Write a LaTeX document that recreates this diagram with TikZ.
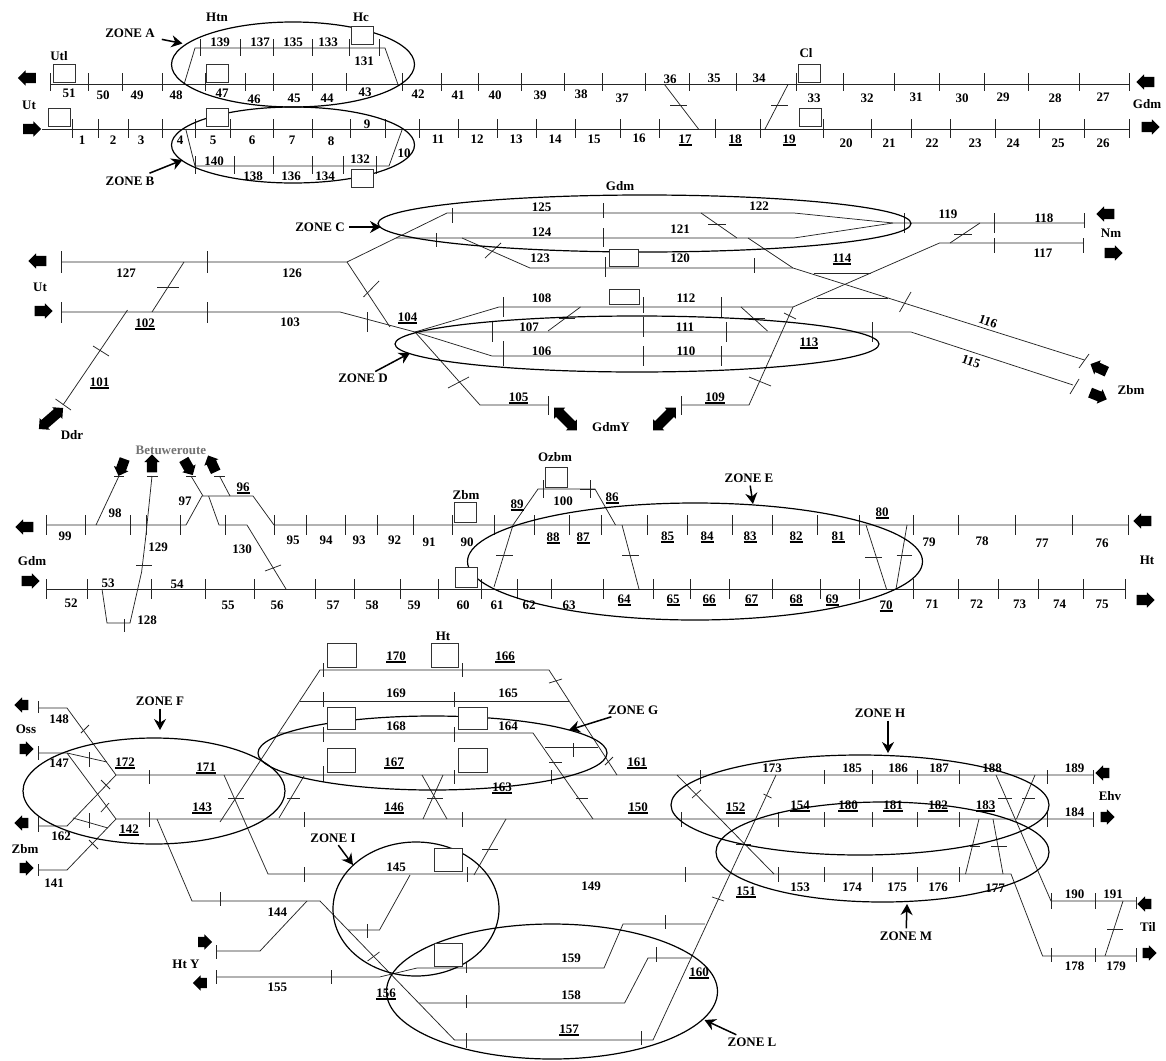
\documentclass[tikz,border=0pt]{standalone}
\usepackage{fontspec}
\setmainfont{Liberation Serif}
\usepackage{tikz}
\usetikzlibrary{arrows.meta,positioning,shapes.geometric,shapes.arrows}
\newcommand{\unl}[1]{\vtop{\hbox{#1}\kern.8pt\hrule height1.6pt}}
\newcommand{\tks}[3]{\foreach \tx in {#3} \draw[tck] (\tx,#1)--(\tx,#2);}
\begin{document}
\begin{tikzpicture}[x=1pt,y=-1pt,>=Stealth,font=\bfseries\fontsize{13}{15}\selectfont,
 trk/.style={draw=black!85,line width=.75pt},
 tck/.style={draw=black!85,line width=.75pt},
 zone/.style={ellipse,draw=black,line width=1.2pt,inner sep=0pt,outer sep=0pt},
 sbox/.style={draw=black!80,fill=white,line width=.7pt,inner sep=0pt,minimum width=22,minimum height=18},
 lab/.style={anchor=base,yshift=-4.5pt,inner sep=0pt},
 rlab/.style={inner sep=0pt,rotate=-19},
 zlab/.style={inner sep=1pt},
 zarr/.style={-{Stealth[length=11,width=12]},line width=1.5pt,shorten <=2pt},
 blk/.style={single arrow,fill=black,inner xsep=0pt,inner ysep=5pt,outer sep=0pt,minimum height=18,single arrow head extend=2.5pt},
 blk2/.style={double arrow,fill=black,inner xsep=0pt,inner ysep=5pt,outer sep=0pt,minimum height=32,double arrow head extend=2.5pt}]
\useasboundingbox (0,0) rectangle (1166,1060);

\draw[trk] (50,84.5)--(1129,84.5);
\draw[trk] (42,129)--(1129,129);
\tks{73}{91}{50,88,122,162,205,245,273,312,346,402,441,478,521,564,602,645,689,736,796,843,894,939,984,1028,1079,1129}
\tks{119}{138}{72,98,128,162,195,230,273,312,350,385,419,458,497,536,575,620,659,715,760,823,871,911,950,995,1039,1084,1129}
\draw[trk] (184,84.5)--(195,48)--(385,48)--(398,84.5);
\tks{39}{56}{200,240,273,312,349,379}
\draw[trk] (186,130)--(195,166)--(389,166)--(402,130);
\tks{156}{174}{195,234,273,312,343,376}
\draw[trk] (664.5,84.5)--(698.5,129);
\draw[tck] (670,105)--(687,105);
\draw[trk] (788,84.5)--(765,129);
\draw[tck] (771,105)--(788,105);

\draw[trk] (61,262)--(347,262)--(447,213)--(794,213)--(893,223)--(1084.5,223);
\draw[trk] (396,238)--(794,238)--(893,223);
\draw[trk] (462,238)--(530,268)--(793,268)--(1084.5,360);
\draw[trk] (701,213)--(737,238);
\draw[tck] (708,224)--(726,224);
\draw[trk] (748,238)--(793,268);
\draw[tck] (485,258)--(501,243);
\draw[trk] (1083,243)--(939.5,243)--(793,307)--(749,405)--(681,405);
\draw[trk] (950,243)--(980,223);
\draw[tck] (954,234)--(972,234);
\draw[tck] (749,377)--(771,386);
\draw[tck] (784,313)--(796,319);
\draw[trk] (813.5,273)--(871,273);
\draw[trk] (817,298)--(888,298);
\draw[trk] (61,312)--(340,312)--(415,332)--(492,356)--(772,356);
\draw[trk] (415,332)--(499,307)--(793,307);
\draw[trk] (415,332)--(911,332)--(1073,385);
\draw[trk] (347,262)--(390,327);
\draw[tck] (363.5,297)--(379,281);
\draw[trk] (415,332)--(480,405)--(548,405);
\draw[tck] (448,388)--(469,377);
\draw[trk] (127.5,310)--(63,405);
\draw[tck] (93,346)--(109,356);
\draw[tck] (55.5,399)--(71,410);
\draw[trk] (152,312)--(184,262);
\draw[tck] (157,287)--(179,287);
\draw[trk] (548,331)--(580.5,307);
\draw[tck] (559,318)--(575,318);
\draw[trk] (741,307)--(767.5,331);
\draw[tck] (739,318)--(765,318);
\tks{251}{273}{61,207}
\tks{302}{323}{61,207}
\tks{312}{332}{367}
\tks{208}{223}{452}
\tks{203}{218}{603.5}
\tks{213}{233}{904,994}
\tks{213}{228}{1084.5}
\tks{233}{247}{436}
\tks{228}{247}{603.5}
\tks{257}{277}{605}
\tks{258}{273}{754}
\tks{238}{253}{994,1083}
\tks{297}{317}{503,721}
\tks{297}{313}{643}
\tks{322}{342}{492,726.5,872}
\tks{317}{337}{643}
\tks{341}{366}{503}
\tks{346}{366}{643,721}
\tks{396}{415}{548,681}
\draw[tck] (899.5,312)--(911,292);
\draw[tck] (1079,368)--(1089,354);
\draw[tck] (1070,394)--(1079,379);

\draw[trk] (46,525)--(186,525)--(202,496)--(253,496)--(274,525)--(1128,525);
\draw[trk] (191,476)--(203,496);
\draw[trk] (208.6,496)--(219,525)--(247,525)--(286,589);
\draw[trk] (219.5,476)--(230,496);
\draw[trk] (96,525)--(119,476);
\draw[trk] (46,589)--(1126,589);
\draw[trk] (102,589)--(107,623)--(130,623)--(141.6,572)--(145.4,540)--(152,476);
\draw[tck] (136,565)--(152,565);
\draw[tck] (114,476)--(124,476);
\draw[tck] (147,476)--(158,476);
\draw[tck] (186,476)--(196,476);
\draw[tck] (214,476)--(225,476);
\draw[tck] (265,571)--(281,565);
\tks{619}{632}{124}
\tks{515}{535}{46,85,130,146,180,225,274,306.5,345,377,413,452,494,534,569,601,647,687,732,772,817,859.5,913,958,1015,1072,1128}
\tks{579}{599}{46,87,151,205,254,315,354,400,438,481,517,551,603.5,653.6,690.6,729,772.4,820,859,913,958,998,1038,1083,1125.6}
\draw[trk] (513,525)--(538,489)--(595,489)--(615.5,525);
\tks{480}{498}{543,590}
\draw[tck] (580,489)--(595,489);
\draw[trk] (513,525)--(494,587);
\draw[tck] (496,555)--(513,555);
\draw[trk] (622,525)--(639,589);
\draw[tck] (622,555)--(639,555);
\draw[trk] (866,525)--(886.5,589);
\draw[tck] (865,557)--(881.6,557);
\draw[trk] (907,525)--(896,589);
\draw[tck] (896.5,555)--(912,555);

\draw[trk] (38,708)--(67,708)--(116,775)--(1093.6,775);
\draw[trk] (38,753)--(67,753)--(107,762);
\draw[trk] (67,753)--(116,819)--(1093.6,819);
\draw[trk] (38,826)--(67,826)--(116,775);
\draw[trk] (73,818)--(108,828);
\draw[trk] (38,870)--(67,870)--(116,819);
\tks{701}{713}{38}
\tks{746}{760}{38}
\tks{817}{832}{38}
\tks{864}{876}{38}
\tks{752}{767}{89}
\tks{813}{828}{89}
\draw[tck] (81,733)--(89,725);
\draw[tck] (101,812)--(109,803);
\draw[tck] (101,780)--(110,789);
\draw[tck] (89,840)--(98,849);
\draw[trk] (224,775)--(268,874)--(1011,874)--(1042.6,956)--(1136,956);
\draw[trk] (157,819)--(192,901)--(320,901)--(454.5,1040)--(653,1040)--(776,775);
\draw[trk] (220,822)--(320,670)--(549,670)--(617,775);
\draw[trk] (300,701)--(569,701);
\draw[trk] (278.6,733)--(533,733)--(593,819);
\draw[trk] (545,747)--(598,747);
\draw[tck] (228,798)--(244,798);
\draw[trk] (279,818)--(304,776);
\draw[tck] (287,798)--(300,798);
\draw[trk] (422,775)--(447,819);
\draw[trk] (443,775)--(423,819);
\draw[tck] (427,798)--(443,798);
\draw[tck] (549,683)--(562,679);
\draw[tck] (549,762)--(562,762);
\draw[tck] (576,798)--(588,798);
\draw[tck] (605,765)--(613,757);
\draw[trk] (474,875)--(506,819);
\draw[tck] (482,849)--(498,849);
\draw[trk] (677,775)--(774,874);
\draw[tck] (692,798)--(701,790);
\draw[tck] (763.5,794)--(771.5,798);
\draw[tck] (712,897)--(724,901);
\draw[tck] (736,844)--(751,844);
\draw[trk] (996,775)--(1051,901)--(1136,901);
\draw[trk] (1123,901)--(1105,956);
\draw[tck] (1107,929)--(1123,929);
\draw[trk] (1035,775)--(1016.5,819);
\draw[tck] (1021.5,798)--(1035,798);
\draw[tck] (998,798)--(1012,798);
\draw[trk] (979,819)--(965.5,874);
\draw[tck] (970,846)--(979.5,846);
\draw[trk] (993,819)--(1003,874);
\draw[tck] (991,846)--(1007,846);
\tks{663}{677}{323,462}
\tks{692}{707}{323,454}
\tks{727}{742}{323,454}
\tks{770}{784}{149,454,551,700,824.5,872,917.5,959,1047,1093.6}
\tks{766}{782}{323}
\tks{812}{827}{149,304,462,681,778,824.5,872,917.5,959,1047,1093.6}
\tks{867}{882}{304,467,685,778,824.5,872,917.5,959}
\tks{743}{757}{573}
\tks{893}{909}{1051,1095}
\tks{897}{909}{1136}
\tks{948}{962}{1051,1095,1136}
\tks{892}{906}{220}
\draw[trk] (216.5,951)--(260,951)--(307,901);
\draw[trk] (216.5,977)--(379.5,977)--(417,968)--(604,968)--(623,924)--(705,924);
\draw[trk] (419,1003)--(624.6,1003)--(648,958)--(692,958);
\draw[trk] (410,875)--(379.5,930)--(348,930);
\draw[tck] (367.6,961)--(379.5,952);
\tks{945}{959}{216.5}
\tks{970}{984}{216.5,331}
\tks{963}{973}{466.5}
\tks{915}{929}{665}
\tks{995}{1008}{466.5}
\tks{947}{962}{656}
\tks{1033}{1048}{466.5}
\tks{1031}{1045}{641}
\tks{924}{938}{367}

\node[zone,minimum width=243,minimum height=85] (zA) at (293,64.5) {};
\node[zone,minimum width=243,minimum height=76] (zB) at (293,145) {};
\node[zone,minimum width=533,minimum height=57] (zC) at (644.5,223.5) {};
\node[zone,minimum width=484,minimum height=56] (zD) at (637,344) {};
\node[zone,minimum width=455,minimum height=117] (zE) at (695,561.5) {};
\node[zone,minimum width=262,minimum height=106] (zF) at (154,791) {};
\node[zone,minimum width=349,minimum height=74] (zG) at (432.5,753) {};
\node[zone,minimum width=378,minimum height=100] (zH) at (860,805) {};
\node[zone,minimum width=166,minimum height=134] (zI) at (416,909) {};
\node[zone,minimum width=331,minimum height=135] (zL) at (552,991.5) {};
\node[zone,minimum width=333,minimum height=100] (zM) at (882.5,852) {};

\node[sbox] (bUtl) at (64,73) {};
\node[sbox] (bUt) at (59,117.5) {};
\node[sbox] (bA) at (217.5,73) {};
\node[sbox] (bB) at (217.5,117) {};
\node[sbox] (bHc) at (362,35) {};
\node[sbox] (bHd) at (362,178.5) {};
\node[sbox] (bCl) at (809,73) {};
\node[sbox] (bCm) at (810,117.5) {};
\node[sbox,minimum width=29,minimum height=17] (bGa) at (623.5,257.5) {};
\node[sbox,minimum width=30,minimum height=15] (bGb) at (624,296.5) {};
\node[sbox,minimum height=20] (bZbm) at (465,512) {};
\node[sbox,minimum width=21.5,minimum height=20] (bOzbm) at (556.5,477) {};
\node[sbox,minimum height=20] (bSx) at (466.5,577) {};
\node[sbox,minimum width=29,minimum height=24] (bHa) at (341.5,655) {};
\node[sbox,minimum width=28,minimum height=22] (bHb) at (341,718) {};
\node[sbox,minimum width=28,minimum height=24] (bHe) at (341,760) {};
\node[sbox,minimum width=27,minimum height=24] (bHt) at (444.5,655) {};
\node[sbox,minimum width=29,minimum height=22] (bHf) at (472.5,718) {};
\node[sbox,minimum width=29,minimum height=24] (bHg) at (472.5,760) {};
\node[sbox,minimum width=28,minimum height=23] (bYa) at (448,859.5) {};
\node[sbox,minimum width=28,minimum height=23] (bYb) at (448,954.5) {};

\foreach \x/\y/\t in {69/93/51,103/95/50,137/95/49,176/95/48,222/93/47,254/99/46,294/98/45,327/98/44,365/92/43,418/94/42,458/95/41,495/95/40,540/95/39,581/94/38,622/98/37,670/79/36,714/78/35,759/78/34,814/98/33,867/98/32,916/97/31,962/98/30,1003/97/29,1055/98/28,1103/97/27,
 82/140/1,113/140/2,141/140/3,180/140/4,213/140/5,252/140/6,292/140/7,331/141/8,367/124/9,404/153/10,438/139/11,477/139/12,516/139/13,555/139/14,594/139/15,639/138/16,846/143/20,889/143/21,932/143/22,975/143/23,1013/143/24,1058/143/25,1103/143/26,
 220/42/139,260/42/137,293/42/135,328/42/133,364/61/131,214/161/140,253/176/138,291/176/136,325/176/134,360/159/132,
 126/273/127,292/273/126,290/322/103,541.5/207/125,541.5/232/124,540/258/123,541.5/298/108,529/327/107,541.5/351/106,759/206/122,680/229/121,680/258/120,948/214/119,1044/218/118,1043/253/117,686/298/112,685/327/111,686/351/110,
 65/536/99,115/513/98,185/501/97,293/540/95,326/540/94,359/540/93,394.5/540/92,429/542/91,467/542/90,563/501/100,158/547/129,242/549/130,147/620/128,108/583/53,177/584/54,71/603/52,228/605/55,277/605/56,333/605/57,372/605/58,414/605/59,463/605/60,497/605/61,529/605/62,569/605/63,929/542/79,982/541/78,1042/543/77,1102/543/76,932/604/71,976.5/604/72,1019.5/604/73,1059.5/604/74,1102/604/75,
 59/719/148,59/763/147,61/836/162,54/883/141,396/693/169,508/693/165,396/726/168,508/726/164,396/867/145,591/886/149,772/768/173,852/768/185,898/768/186,939/768/187,992/768/188,1074.5/768/189,1074.5/812/184,800/887/153,852/887/174,897/887/175,938/887/176,995/888/177,1074.5/894/190,1113/894/191,1074.5/966/178,1116/966/179,277.4/912/144,277.4/987/155,571/958/159,571/995/158}
 \node[lab] (n\t) at (\x,\y) {\t};

\foreach \x/\y/\t in {685/139/17,735/139/18,789/139/19,145/323/102,99.5/382/101,407.5/317/104,518.5/397/105,842/258/114,809/342/113,715/397/109,
 243/487/96,517/504/89,553/537/88,583/537/87,612/497/86,667.5/536/85,707/536/84,750/536/83,796/536/82,838/536/81,882/512/80,624/599/64,673/599/65,709/599/66,751.5/599/67,796/599/68,832/599/69,886/605/70,
 129/829/142,125/762/172,206/767/171,202/807/143,396/656/170,505/656/166,394/762/167,502/787/163,394/807/146,638/807/150,637/762/161,735.6/807/152,800/805/154,848/805/180,893/805/181,938/805/182,985.6/805/183,746/891/151,386/993/156,569/1029/157,699/972/160}
 \node[lab] (n\t) at (\x,\y) {\unl{\t}};

\node[rlab] (n116) at (988,322) {116};
\node[rlab] (n115) at (971,362) {115};

\foreach \x/\y/\n/\t in {59/56/tUtl/Utl,29/105/tUt/Ut,217/17/tHtn/Htn,361/17/tHc/Hc,806/53/tCl/Cl,1147/104/tGdm/Gdm,40/287/tUtb/Ut,72/435/tDdr/Ddr,620/186/tGdmb/Gdm,1111/233/tNm/Nm,1131/390/tZbm/Zbm,32/561/tGdmc/Gdm,555/457/tOzbm/Ozbm,466/495/tZbmb/Zbm,1147/560/tHt/Ht,26/729/tOss/Oss,25/849/tZbmc/Zbm,443/636/tHtb/Ht,1110/796/tEhv/Ehv,1148/927/tTil/Til,186/964/tHtY/Ht Y}
 \node[lab] (\n) at (\x,\y) {\t};
\node[lab] (tGdmY) at (611,427) {GdmY};
\node[lab,text=black!55] (tBet) at (171,450) {Betuweroute};

\node[zlab] (lzA) at (130,33) {ZONE A};
\node[zlab] (lzB) at (130,181) {ZONE B};
\node[zlab] (lzC) at (320,227) {ZONE C};
\node[zlab] (lzD) at (363,378) {ZONE D};
\node[zlab] (lzE) at (749,478) {ZONE E};
\node[zlab] (lzF) at (160,701) {ZONE F};
\node[zlab] (lzG) at (633,710) {ZONE G};
\node[zlab] (lzH) at (880,713) {ZONE H};
\node[zlab] (lzI) at (333,838) {ZONE I};
\node[zlab] (lzL) at (752,1042) {ZONE L};
\node[zlab] (lzM) at (906,936) {ZONE M};
\coordinate (cA) at (182.5,43.5);
\coordinate (cB) at (182.5,160);
\coordinate (cC) at (381,227);
\coordinate (cD) at (410,353);
\coordinate (cE) at (753,504);
\coordinate (cF) at (160,730);
\coordinate (cG) at (569,730);
\coordinate (cH) at (888,753);
\coordinate (cI) at (353,865);
\coordinate (cL) at (704.5,1020);
\coordinate (cM) at (907,904);
\draw[zarr,shorten <=6pt] (lzA)--(cA);
\draw[zarr,shorten <=6pt] (lzB)--(cB);
\draw[zarr,shorten <=3pt] (lzC)--(cC);
\draw[zarr] (lzD)--(cD);
\draw[zarr] (lzE)--(cE);
\draw[zarr] (lzF)--(cF);
\draw[zarr,shorten <=4pt] (lzG)--(cG);
\draw[zarr] (cH|-lzH.south)--(cH);
\draw[zarr] (lzI)--(cI);
\draw[zarr,shorten <=4pt] (lzL)--(cL);
\draw[zarr] (lzM)--(cM);

\node[blk,rotate=180] (aUtl) at (29.5,78) {};
\node[blk] (aUt) at (29.5,129) {};
\node[blk,rotate=180] (aGl) at (1148,82) {};
\node[blk] (aGr) at (1148,127) {};
\node[blk,rotate=180] (aUl) at (40,261) {};
\node[blk] (aUr) at (41,311) {};
\node[blk2,rotate=41] (aDdr) at (51,418.5) {};
\node[blk2,rotate=-45] (aYa) at (565.5,419) {};
\node[blk2,rotate=45] (aYb) at (664.5,419) {};
\node[blk,rotate=180] (aNl) at (1108,214) {};
\node[blk] (aNr) at (1111,253) {};
\node[blk,rotate=155] (aZu) at (1101,369) {};
\node[blk,rotate=-22] (aZl) at (1096,395) {};
\node[blk,rotate=-110] (aBa) at (122.5,465) {};
\node[blk,rotate=90] (aBb) at (152,466) {};
\node[blk,rotate=-60] (aBc) at (187,465) {};
\node[blk,rotate=115] (aBd) at (213,466) {};
\node[blk,rotate=180] (aEl) at (27,527) {};
\node[blk] (aEr) at (28,581) {};
\node[blk,rotate=180] (aFl) at (1145,521) {};
\node[blk] (aFr) at (1143,600) {};
\node[blk,rotate=180,minimum height=14] (aOl) at (24,705) {};
\node[blk,minimum height=14] (aOr) at (24,749) {};
\node[blk,rotate=180,minimum height=14] (aZa) at (24,823) {};
\node[blk,minimum height=14] (aZb) at (24,868) {};
\node[blk,minimum height=14] (aYr) at (202.5,942) {};
\node[blk,rotate=180,minimum height=14] (aYl) at (202.5,983) {};
\node[blk,rotate=180,minimum height=14] (aHl) at (1105,773) {};
\node[blk,minimum height=14] (aHr) at (1105,817) {};
\node[blk,rotate=180,minimum height=14] (aTl) at (1147,904) {};
\node[blk,minimum height=14] (aTr) at (1147,953) {};
\end{tikzpicture}
\end{document}
